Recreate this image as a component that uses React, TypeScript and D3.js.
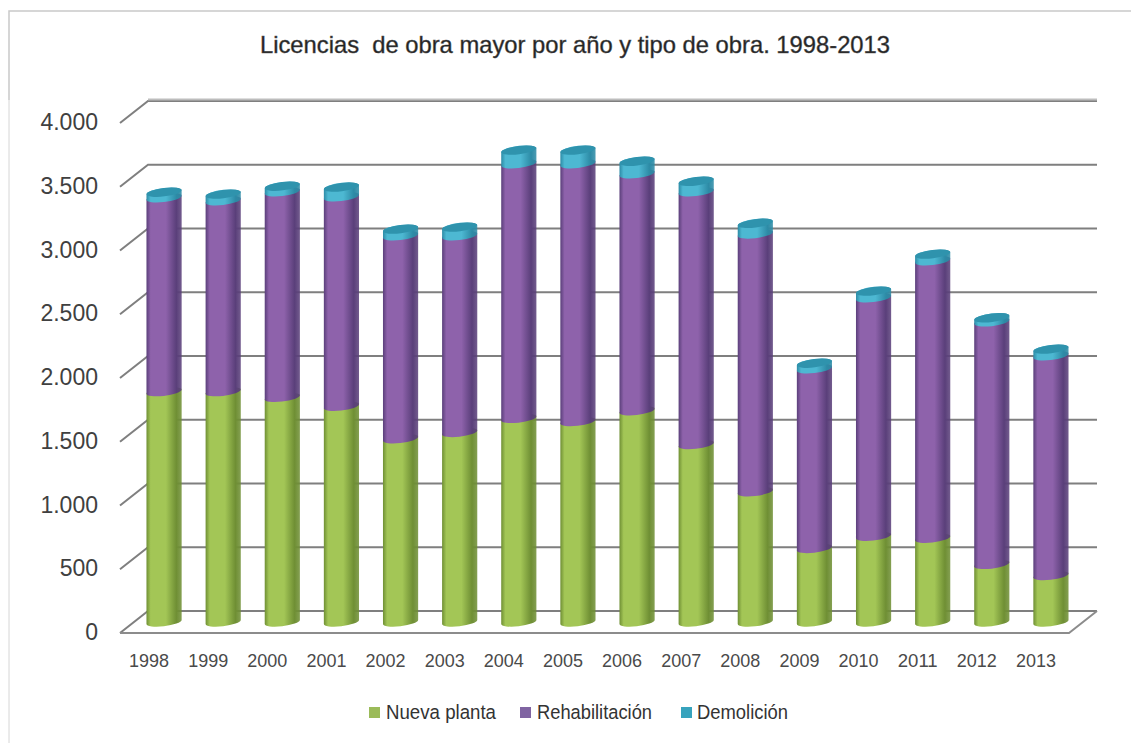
import * as d3 from "d3";

const years = ["1998","1999","2000","2001","2002","2003","2004","2005","2006","2007","2008","2009","2010","2011","2012","2013"];
const nuevaPlanta = [1807,1807,1762,1692,1437,1487,1597,1572,1657,1392,1022,577,672,657,452,364];
const rehabilitacion = [1520,1497,1612,1643,1592,1542,1997,2022,1858,1982,2022,1409,1871,2176,1902,1724];
const demolicion = [44,52,44,76,52,68,107,107,99,83,83,44,52,52,32,52];
const seriesNames = ["Nueva planta", "Rehabilitación", "Demolición"];
const yTicks = [0,500,1000,1500,2000,2500,3000,3500,4000];
const tickLabels = ["0","500","1.000","1.500","2.000","2.500","3.000","3.500","4.000"];

const colors = {
  "Nueva planta": { edge: "#6f8f34", mid: "#a3c656", key: "#9bbb59" },
  "Rehabilitación": { edge: "#5a3f7a", mid: "#8e62ab", key: "#8064a2" },
  "Demolición": { edge: "#2d8ba6", mid: "#4db8d2", key: "#37a3bd" },
} as Record<string, { edge: string; mid: string; key: string }>;

const capColor = "#2f93ad";
const font = "'Liberation Sans', Arial, sans-serif";
const depth = { x: 28, y: 22 };
const rows = years.map((year, i) => ({
  year,
  "Nueva planta": nuevaPlanta[i],
  "Rehabilitación": rehabilitacion[i],
  "Demolición": demolicion[i],
}));

const legendKeyX = [369, 520, 681];
const legendTextX = [386, 537, 697];
const legendWidths = [110, 115, 91];

export default function App() {
  // back wall scale, bars sit a bit in front of it
  const yBack = d3.scaleLinear().domain([0, 4000]).range([611, 101]);
  const barBase = 622;
  const yBar = (v: number) => barBase - (yBack(0) - yBack(v));
  const x = d3.scaleBand<string>().domain(years).range([134.5, 1080.5]).paddingInner(0.405).paddingOuter(0.2025);
  const stack = d3.stack<any>().keys(seriesNames)(rows);
  const rx = x.bandwidth() / 2;
  const ry = 4.2;
  const dy = 2;
  const tilt = -7;
  const backLeft = 148;
  const backRight = 1097;

  const segment = (cx: number, y0: number, y1: number) =>
    `M${cx - rx},${y1 + dy}L${cx - rx},${y0 + dy}` +
    `A${rx},${ry} ${tilt} 0 0 ${cx + rx},${y0 - dy}L${cx + rx},${y1 - dy}` +
    `A${rx},${ry} ${tilt} 0 0 ${cx - rx},${y1 + dy}Z`;

  return (
    <svg width={1131} height={743} style={{ position: "absolute", left: 0, top: 0, background: "#fff" }}>
      <defs>
        {seriesNames.map((s, i) => (
          <linearGradient key={s} id={`cyl-${i}`} x1="0" x2="1" y1="0" y2="0">
            <stop offset="0" stopColor={colors[s].edge} />
            <stop offset="0.12" stopColor={colors[s].mid} />
            <stop offset="0.55" stopColor={colors[s].mid} />
            <stop offset="0.85" stopColor={colors[s].edge} />
            <stop offset="1" stopColor={colors[s].edge} stopOpacity={0.85} />
          </linearGradient>
        ))}
      </defs>

      {/* frame */}
      <path d="M9,100V11H1131" fill="none" stroke="#c9c9c9" strokeWidth={1.5} />
      <path d="M9,100V743" fill="none" stroke="#d6d6d6" strokeWidth={1} />

      {/* title */}
      <text x={260} y={53} fontFamily={font} fontSize={24} fill="#222" stroke="#555" strokeWidth={0.45} textLength={630} lengthAdjust="spacingAndGlyphs" xmlSpace="preserve">
        Licencias  de obra mayor por año y tipo de obra. 1998-2013
      </text>

      {/* grid */}
      <g fill="none" stroke="#7f7f7f" strokeWidth={2}>
        {yTicks.map((t) => (
          <path key={t} d={`M${backLeft - depth.x},${yBack(t) + depth.y}L${backLeft},${yBack(t)}H${backRight}`} />
        ))}
        <path d={`M${backRight},${yBack(0)}L${backRight - depth.x},${yBack(0) + depth.y}H${backLeft - depth.x}`} stroke="#8c8c8c" />
        <path d={`M${backLeft},${yBack(4000) - 1.5}H${backRight}`} stroke="#bdbdbd" />
      </g>

      {/* y labels */}
      {yTicks.map((t, i) => (
        <text key={t} x={98} y={yBack(t) + depth.y + 7} textAnchor="end" fontFamily={font} fontSize={23} fill="#404040">
          {tickLabels[i]}
        </text>
      ))}

      {/* cylinders */}
      {years.map((year, i) => {
        const cx = x(year)! + rx;
        const top = stack[2][i][1];
        return (
          <g key={year}>
            {stack.map((layer, k) => (
              <path key={layer.key} d={segment(cx, yBar(layer[i][0]), yBar(layer[i][1]))} fill={`url(#cyl-${k})`} />
            ))}
            <ellipse cx={cx} cy={yBar(top)} rx={rx} ry={ry} fill={capColor} transform={`rotate(${tilt} ${cx} ${yBar(top)})`} />
          </g>
        );
      })}

      {/* x labels */}
      {years.map((year) => (
        <text key={year} x={x(year)! + rx - 15} y={667} textAnchor="middle" fontFamily={font} fontSize={19} fill="#4a4a4a" textLength={40} lengthAdjust="spacingAndGlyphs">
          {year}
        </text>
      ))}

      {/* legend */}
      {seriesNames.map((s, i) => (
        <g key={s}>
          <rect x={legendKeyX[i]} y={707} width={11} height={11} fill={colors[s].key} />
          <text x={legendTextX[i]} y={719} fontFamily={font} fontSize={20.5} fill="#333" textLength={legendWidths[i]} lengthAdjust="spacingAndGlyphs">
            {s}
          </text>
        </g>
      ))}
    </svg>
  );
}
